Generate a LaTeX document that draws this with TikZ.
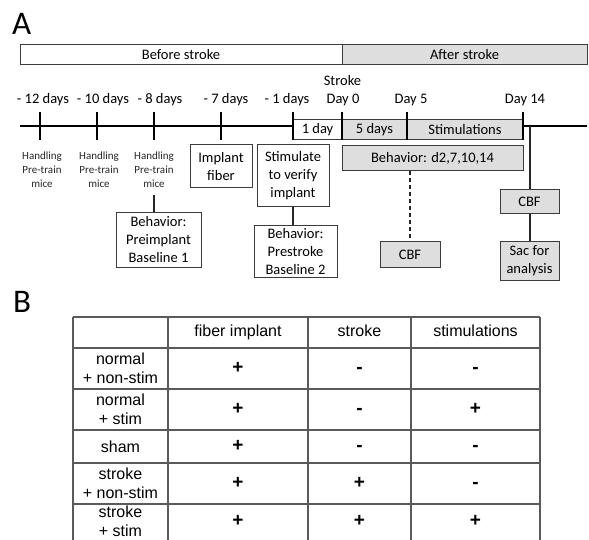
\documentclass[tikz,border=0pt]{standalone}
\usepackage{fontspec}
\setmainfont{Carlito}
\newfontfamily\tabfont{Liberation Sans}
\usetikzlibrary{positioning,calc}
\definecolor{bxLine}{HTML}{3C3C3C}
\definecolor{bxFill}{HTML}{DEDEDE}
\definecolor{tbLine}{HTML}{5A5A5A}
\tikzset{
  bx/.style   = {draw=bxLine, line width=1pt, fill=white, align=center,
                 inner sep=1pt, font=\fontsize{14.5}{18}\selectfont},
  bxg/.style  = {bx, fill=bxFill},
  tl/.style   = {line width=2.4pt, black},
  tk/.style   = {line width=2pt, black},
  lk/.style   = {line width=2pt, black!85},
  lbl/.style  = {font=\fontsize{14.5}{18}\selectfont, inner sep=0pt, anchor=base},
  sml/.style  = {font=\fontsize{11}{14}\selectfont, align=center, inner sep=0pt,
                 anchor=north, text=black!85},
  cellg/.style = {font=\tabfont\fontsize{16}{19}\selectfont, align=center, inner sep=0pt},
  cell/.style = {cellg, text height=11.6pt, text depth=3.4pt},
  sym/.style  = {cellg, font=\tabfont\bfseries\fontsize{19}{19}\selectfont,
                 text height=13.6pt, text depth=3.4pt},
  tbl/.style  = {draw=tbLine, line width=1.2pt},
  big/.style  = {font=\fontsize{33}{36}\selectfont, inner sep=0pt, anchor=base west},
}

\begin{document}
\begin{tikzpicture}[x=1pt, y=-1pt]
  \useasboundingbox (0,0) rectangle (589,540);
  \node[big] (labA) at (12,35) {A};
  % before / after bar
  \node[bx, minimum width=322, minimum height=20] (before) at (181,55) {Before stroke};
  \node[bxg, minimum width=245, minimum height=20] (after) at (464.5,55) {After stroke};
  % the time line
  \coordinate (tlL) at (20,126);
  \coordinate (tlR) at (587,126);
  \draw[tl] (tlL) -- (tlR);
  \node[bx, minimum width=49, minimum height=20] (d1) at (317.5,130) {1 day};
  \node[bxg, minimum width=65, minimum height=20] (d5) at (374.5,130) {5 days};
  \node[bxg, minimum width=116, minimum height=20] (stims) at (465,130) {Stimulations};
  \foreach \x in {40,97,154,221,293,342,407,523}
    \draw[tk] (\x,112) -- (\x,140);
  % day labels
  \foreach \x/\t/\n in {43/{- 12 days}/m12, 103/{- 10 days}/m10, 160/{- 8 days}/m8,
                        226/{- 7 days}/m7, 287/{- 1 days}/m1, 343/{Day 0}/p0,
                        411/{Day 5}/p5, 525/{Day 14}/p14}
    \node[lbl] (\n) at (\x,104) {\t};
  \node[lbl] (strk) at (342.5,85.5) {Stroke};
  % handling
  \foreach \x/\n in {42/h1, 99/h2, 154/h3}
    \node[sml] (\n) at (\x,152) {Handling\\Pre-train\\mice};
  % events before stroke
  \node[bx, minimum width=62, minimum height=43] (impl) at (221,166.5) {Implant\\fiber};
  \node[bx, minimum width=72, minimum height=62] (stim) at (293,176) {Stimulate\\to verify\\implant};
  \node[bx, minimum width=85, minimum height=54] (pre1) at (158.5,240)
       {Behavior:\\Preimplant\\Baseline 1};
  \node[bx, minimum width=83, minimum height=51] (pre2) at (295.5,251.5)
       {Behavior:\\Prestroke\\Baseline 2};
  \draw[lk, shorten <=7pt] (h3.south) -- (h3.south |- pre1.north);
  \draw[lk] (stim.south) -- (stim.south |- pre2.north);
  % events after stroke
  \node[bxg, minimum width=181, minimum height=25] (beh) at (432.5,158.5) {Behavior: d2,7,10,14};
  \node[bxg, minimum width=60, minimum height=25] (cbf1) at (410,254.5) {CBF};
  \node[bxg, minimum width=59, minimum height=24] (cbf2) at (529.5,202) {CBF};
  \node[bxg, minimum width=59, minimum height=38] (sac) at (529.5,261) {Sac for\\analysis};
  \draw[lk, dash pattern=on 4pt off 3pt] (beh.south -| cbf1.north) -- (cbf1.north);
  \draw[lk] (cbf2.north |- tlR) -- (cbf2.north);
  \draw[lk] (cbf2.south) -- (sac.north);

  \node[big] (labB) at (13,312) {B};
  % the table
  \foreach \x in {73,168,308,411,540}
    \draw[tbl] (\x,317) -- (\x,541);
  \foreach \y in {317,348,389,430,463,504}
    \draw[tbl] (73,\y) -- (540,\y);
  \node[cell] (f0) at (238,332.5) {fiber implant};
  \node[cell] (s0) at (359.5,332.5) {stroke};
  \node[cell] (m0) at (475.5,332.5) {stimulations};
  \foreach \r/\y/\g/\f/\s/\m in {1/368.5/{normal\\+ non-stim}/+/-/-,
        2/409.5/{normal\\+ stim}/+/-/+, 3/446.5/sham/+/-/-,
        4/483.5/{stroke\\+ non-stim}/+/+/-, 5/521.5/{stroke\\+ stim}/+/+/+}{
    \node[cellg] (g\r) at (120.5,\y) {\g};
    \node[sym] (f\r) at (238,\y) {\f};
    \node[sym] (s\r) at (359.5,\y) {\s};
    \node[sym] (m\r) at (475.5,\y) {\m};
  }
\end{tikzpicture}
\end{document}
